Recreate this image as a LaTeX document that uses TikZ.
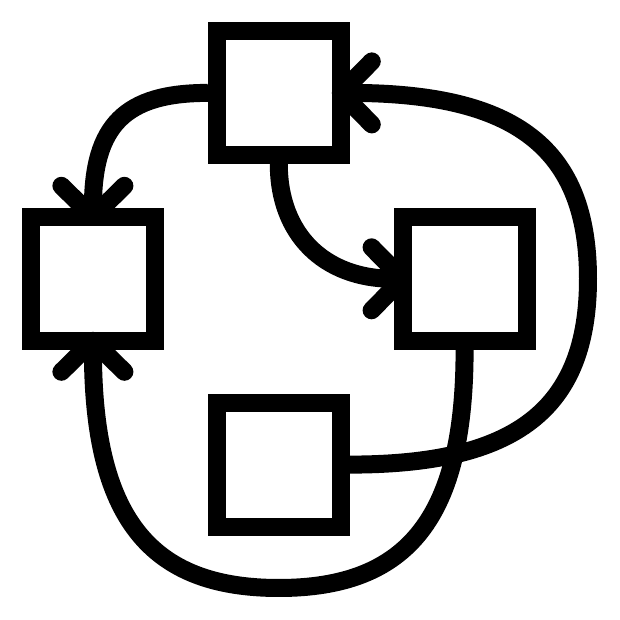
\documentclass[tikz,border=0pt]{standalone}
\usepackage{xcolor}
\usepackage{tikz}
\usetikzlibrary{arrows.meta}

\begin{document}
\begin{tikzpicture}[box/.style={draw, line width=.18cm, minimum size=1.24cm, inner sep=0pt},
             link/.style={line width=.18cm, -{Straight Barb[round, length=.31cm, width=.63cm]}, shorten >=-.18cm}]
             \useasboundingbox (0, 0) rectangle (6.2, 6.2);

             \node[box] (topbox) at (2.788, 5.271) {};
             \node[box] (leftbox) at (.929, 3.412) {};
             \node[box] (rightbox) at (4.646, 3.412) {};
             \node[box] (lowbox) at (2.788, 1.554) {};

             \coordinate (eastturn) at (5.88, 3.412);
             \coordinate (southturn) at (2.788, .32);

             \draw[link] (topbox.west) to[out=180, in=90, looseness=1.3] (leftbox.north);
             \draw[link] (topbox.south) to[out=-90, in=180, looseness=1.1] (rightbox.west);

             \draw[link] (lowbox.east) .. controls +(1.67, 0) and +(0, -1.3) .. (eastturn)
                  .. controls +(0, 1.3) and +(1.67, 0) .. (topbox.east);
             \draw[link] (rightbox.south) .. controls +(0, -1.67) and +(1.3, 0) .. (southturn)
                  .. controls +(-1.3, 0) and +(0, -1.67) .. (leftbox.south);
             \end{tikzpicture}
\end{document}
